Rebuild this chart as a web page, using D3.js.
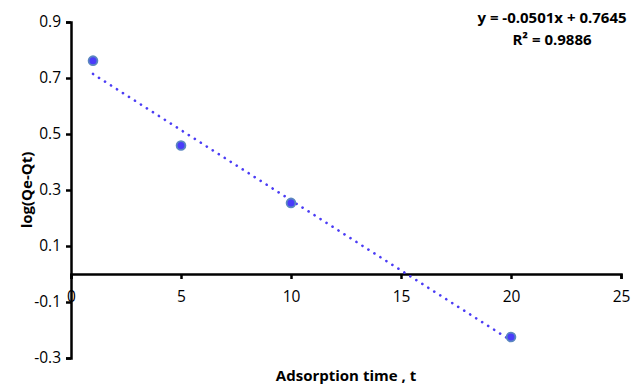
<!DOCTYPE html>
<html lang="en">
<head>
    <meta charset="UTF-8">
    <title>Adsorption kinetics</title>
    <script src="https://d3js.org/d3.v7.min.js"></script>
    <style>
        body { margin: 0; background: #fff; }
        text { font-family: "Open Sans", "Liberation Sans", sans-serif; }
    </style>
</head>
<body>
<svg width="644" height="387" class="chart"></svg>

<script>
    // data
    var times = [1, 5, 10, 20];
    var logValues = [0.762, 0.459, 0.254, -0.225];
    var xTicks = [0, 5, 10, 15, 20, 25];
    var yTicks = [-0.3, -0.1, 0.1, 0.3, 0.5, 0.7, 0.9];
    var slope = -0.0501, intercept = 0.7645;
    var eqLines = ["y = -0.0501x + 0.7645", "R² = 0.9886"];

    var svg = d3.select("svg.chart");

    var xScale = d3.scaleLinear().domain([0, 25]).range([71, 621]);
    var yScale = d3.scaleLinear().domain([-0.3, 0.9]).range([358, 22]);

    // y axis
    var yAxis = svg.append("g")
        .attr("transform", "translate(" + xScale(0) + ",0)")
        .call(d3.axisLeft(yScale).tickValues(yTicks).tickSizeOuter(0).tickSize(5).tickPadding(5)
            .tickFormat(function (d) { return d3.format(".1f")(d).replace("−", "-"); }));
    yAxis.select(".domain").attr("stroke", "#000").attr("stroke-width", 2.5);
    yAxis.selectAll(".tick line").attr("stroke", "#000").attr("stroke-width", 2.5);
    yAxis.selectAll(".tick text").attr("font-size", "15.5px").attr("fill", "#000");

    // x axis at y = 0
    var xAxis = svg.append("g")
        .attr("transform", "translate(0," + yScale(0) + ")")
        .call(d3.axisBottom(xScale).tickValues(xTicks).tickSizeOuter(0).tickSize(5).tickPadding(12));
    xAxis.select(".domain").attr("stroke", "#000").attr("stroke-width", 2.5);
    xAxis.selectAll(".tick line").attr("stroke", "#000").attr("stroke-width", 2.5);
    xAxis.selectAll(".tick text").attr("font-size", "15.5px").attr("fill", "#000");

    // trendline
    var fitX = [d3.min(times), d3.max(times)];
    svg.append("line")
        .attr("x1", xScale(fitX[0]))
        .attr("y1", yScale(slope * fitX[0] + intercept))
        .attr("x2", xScale(fitX[1]))
        .attr("y2", yScale(slope * fitX[1] + intercept))
        .attr("stroke", "#4b3cf5")
        .attr("stroke-width", 2.6)
        .attr("stroke-linecap", "round")
        .attr("stroke-dasharray", "0.1 7");

    // points
    svg.selectAll(".dot")
        .data(times)
        .enter().append("circle")
        .attr("class", "dot")
        .attr("cx", function (d) { return xScale(d); })
        .attr("cy", function (d, i) { return yScale(logValues[i]); })
        .attr("r", 4.4)
        .attr("fill", "#4a3cfa")
        .attr("stroke", "#5b87c0")
        .attr("stroke-width", 1.8);

    // titles
    svg.append("text")
        .attr("transform", "translate(32,190) rotate(-90)")
        .attr("text-anchor", "middle")
        .attr("font-size", "15px")
        .attr("font-weight", "bold")
        .text("log(Qe-Qt)");

    svg.append("text")
        .attr("x", 346)
        .attr("y", 381)
        .attr("text-anchor", "middle")
        .attr("font-size", "15px")
        .attr("font-weight", "bold")
        .text("Adsorption time , t");

    svg.selectAll(".eq")
        .data(eqLines)
        .enter().append("text")
        .attr("class", "eq")
        .attr("x", 552)
        .attr("y", function (d, i) { return 23 + i * 22; })
        .attr("text-anchor", "middle")
        .attr("font-size", "15px")
        .attr("font-weight", "bold")
        .text(function (d) { return d; });
</script>
</body>
</html>
